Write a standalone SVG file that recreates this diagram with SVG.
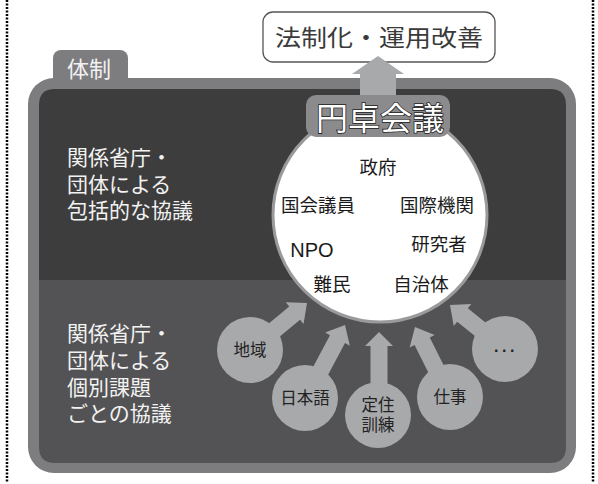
<svg xmlns="http://www.w3.org/2000/svg" width="598" height="484" viewBox="0 0 598 484">
<style>
.jp{font-family:"Noto Sans CJK JP","Noto Sans",sans-serif}
.w{fill:#f2f2f2}
.side{font-size:21px}
.in{font-size:18.5px;fill:#1a1a1a;text-anchor:middle}
.bub{fill:#a8a9ab}
.bt{font-size:16.5px;fill:#222;text-anchor:middle}
.arr{fill:#a8a9ab}
</style>
<rect width="598" height="484" fill="#fff"/>
<!-- dotted borders -->
<line x1="7" y1="0" x2="7" y2="482" stroke="#000" stroke-width="2.5" stroke-dasharray="2 1.5"/>
<line x1="593" y1="0" x2="593" y2="482" stroke="#000" stroke-width="2.5" stroke-dasharray="2 1.5"/>

<g id="frame">
<rect x="53" y="50" width="75" height="40" rx="8" fill="#7d7d80"/>
<rect x="28" y="78" width="548" height="395" rx="26" fill="#7d7d80"/>
<path d="M55,89 H550 Q566,89 566,105 V280 H39 V105 Q39,89 55,89 Z" fill="#3d3d3d"/>
<path d="M39,280 H566 V447 Q566,463 550,463 H55 Q39,463 39,447 Z" fill="#535355"/>
<text class="jp w" x="67" y="77" font-size="22">体制</text>
</g>

<g id="left-top">
<text class="jp w side" x="67" y="165">関係省庁・</text>
<text class="jp w side" x="67" y="192">団体による</text>
<text class="jp w side" x="67" y="218">包括的な協議</text>
</g>
<g id="left-bottom">
<text class="jp w side" x="67" y="341">関係省庁・</text>
<text class="jp w side" x="67" y="368">団体による</text>
<text class="jp w side" x="67" y="395">個別課題</text>
<text class="jp w side" x="67" y="421">ごとの協議</text>
</g>

<g id="result">
<rect x="263" y="12" width="232" height="50" rx="10" fill="#fff" stroke="#555" stroke-width="1.3"/>
<text class="jp" x="379" y="46" font-size="23" fill="#3a3a3a" text-anchor="middle" textLength="208" lengthAdjust="spacingAndGlyphs">法制化・運用改善</text>
</g>

<g id="connectors">
<path d="M378,56 L404,74 L396,74 L396,100 L360,100 L360,74 L352,74 Z" class="arr"/>
<path class="arr" transform="translate(307,303) rotate(50.5)" d="M0,0 L14,16 L8.5,16 L8.5,74 L-8.5,74 L-8.5,16 L-14,16 Z"/>
<path class="arr" transform="translate(345,325) rotate(28)" d="M0,0 L14,16 L8.5,16 L8.5,85 L-8.5,85 L-8.5,16 L-14,16 Z"/>
<path class="arr" transform="translate(379,332) rotate(0)" d="M0,0 L14,14 L8.5,14 L8.5,83 L-8.5,83 L-8.5,14 L-14,14 Z"/>
<path class="arr" transform="translate(415,327) rotate(-26.6)" d="M0,0 L14,16 L8.5,16 L8.5,78 L-8.5,78 L-8.5,16 L-14,16 Z"/>
<path class="arr" transform="translate(450,305) rotate(-51.3)" d="M0,0 L14,16 L8.5,16 L8.5,70 L-8.5,70 L-8.5,16 L-14,16 Z"/>
</g>

<g id="b-chiiki">
<circle class="bub" cx="250" cy="350" r="33"/>
<text class="jp bt" x="250" y="356">地域</text>
</g>
<g id="b-nihongo">
<circle class="bub" cx="305" cy="398" r="33"/>
<text class="jp bt" x="305" y="404">日本語</text>
</g>
<g id="b-teiju">
<circle class="bub" cx="378" cy="415" r="33"/>
<text class="jp bt" x="378" y="411">定住</text>
<text class="jp bt" x="378" y="431">訓練</text>
</g>
<g id="b-shigoto">
<circle class="bub" cx="450" cy="397" r="33"/>
<text class="jp bt" x="450" y="403">仕事</text>
</g>
<g id="b-etc">
<circle class="bub" cx="505" cy="349" r="33"/>
<text x="494" y="352" font-family="Liberation Sans,Arial,sans-serif" font-size="16" font-weight="bold" fill="#222" letter-spacing="3.6">...</text>
</g>

<g id="round-table">
<circle cx="380" cy="215" r="107" fill="#fff" stroke="#9a9a9c" stroke-width="3"/>
<rect x="306" y="95" width="144" height="42" rx="10" fill="#8b8b8d"/>
<text class="jp" x="380" y="130" font-size="32" fill="#fff" stroke="#222" stroke-width="1.6" paint-order="stroke" text-anchor="middle" textLength="128" lengthAdjust="spacingAndGlyphs">円卓会議</text>
<text class="jp in" x="378" y="174">政府</text>
<text class="jp in" x="318" y="212">国会議員</text>
<text class="jp in" x="437" y="212">国際機関</text>
<text x="312" y="257" font-family="Liberation Sans,Arial,sans-serif" font-size="20" fill="#1a1a1a" text-anchor="middle">NPO</text>
<text class="jp in" x="439" y="251">研究者</text>
<text class="jp in" x="332" y="291">難民</text>
<text class="jp in" x="421" y="291">自治体</text>
</g>
</svg>
